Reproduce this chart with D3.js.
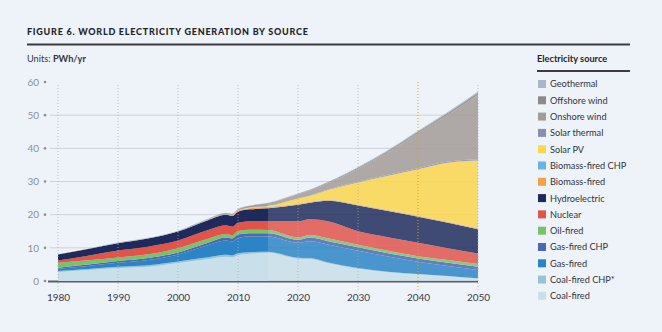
<!DOCTYPE html>
<html>
<head>
<meta charset="utf-8">
<script src="https://cdn.jsdelivr.net/npm/d3@7"></script>
<style>
  html, body { margin: 0; padding: 0; background: #edf3f9; }
  svg { display: block; font-family: Lato, "Open Sans", sans-serif; }
</style>
</head>
<body>
<div id="chart"></div>
<script>
// PWh per year, historical up to 2015, modelled afterwards
const years = [1980, 1985, 1990, 1995, 2000, 2005, 2008, 2009, 2010, 2012, 2015, 2020, 2022, 2025, 2030, 2035, 2040, 2045, 2050];

const coalFired     = [2.7, 3.3, 3.9, 4.3, 5.4, 6.6, 7.3, 7.1, 7.8, 8.2, 8.5, 6.7, 6.6, 5.35, 3.7, 2.65, 2.0, 1.4, 0.72];
const coalFiredCHP  = [0.3, 0.35, 0.4, 0.45, 0.5, 0.55, 0.6, 0.6, 0.6, 0.5, 0.3, 0.3, 0.3, 0.25, 0.2, 0.15, 0.1, 0.1, 0.08];
const gasFired      = [0.7, 0.9, 1.2, 1.6, 2.1, 3.6, 4.3, 4.2, 4.6, 4.7, 4.6, 4.5, 5.1, 5.4, 5.2, 4.6, 3.7, 3.0, 2.5];
const gasFiredCHP   = [0.3, 0.4, 0.5, 0.55, 0.6, 0.8, 0.9, 0.9, 1.0, 1.0, 1.0, 0.9, 1.1, 1.0, 1.1, 1.0, 1.0, 1.0, 1.0];
const oilFired      = [1.5, 1.3, 1.1, 1.15, 1.3, 1.2, 1.1, 1.05, 1.1, 1.05, 1.0, 0.8, 0.8, 0.9, 0.7, 0.7, 0.7, 0.8, 0.8];
const nuclear       = [0.7, 1.4, 2.1, 2.3, 2.3, 2.6, 2.6, 2.55, 2.5, 2.55, 2.7, 4.8, 4.7, 5.1, 4.1, 4.1, 4.0, 3.6, 3.2];
const hydro         = [1.8, 2.0, 2.2, 2.45, 2.7, 3.0, 3.15, 3.2, 3.3, 3.6, 3.8, 5.0, 5.0, 6.2, 7.8, 7.9, 7.9, 7.7, 7.3];
const biomassFired  = [0.02, 0.05, 0.08, 0.1, 0.1, 0.15, 0.2, 0.2, 0.25, 0.3, 0.35, 0.2, 0.2, 0.2, 0.2, 0.2, 0.2, 0.2, 0.2];
const biomassCHP    = [0.02, 0.03, 0.05, 0.06, 0.08, 0.1, 0.12, 0.12, 0.13, 0.14, 0.15, 0.1, 0.1, 0.1, 0.1, 0.1, 0.1, 0.1, 0.1];
const solarPV       = [0, 0, 0, 0, 0, 0.005, 0.01, 0.02, 0.03, 0.1, 0.25, 1.55, 1.8, 2.95, 6.6, 10.35, 14.0, 17.75, 20.4];
const solarThermal  = [0, 0, 0, 0, 0, 0, 0, 0, 0, 0.005, 0.01, 0.05, 0.1, 0.15, 0.2, 0.25, 0.3, 0.35, 0.4];
const onshoreWind   = [0, 0, 0.01, 0.01, 0.03, 0.1, 0.22, 0.27, 0.34, 0.5, 0.8, 1.25, 1.48, 1.9, 3.97, 6.85, 10.53, 14.1, 19.37];
const offshoreWind  = [0, 0, 0, 0, 0, 0, 0, 0, 0.01, 0.02, 0.04, 0.15, 0.2, 0.25, 0.35, 0.45, 0.55, 0.65, 0.75];
const geothermal    = [0.02, 0.03, 0.04, 0.04, 0.05, 0.06, 0.06, 0.07, 0.07, 0.07, 0.08, 0.1, 0.12, 0.15, 0.18, 0.2, 0.22, 0.25, 0.28];

// bottom of the stack first
const sources = [
  {key: 'Coal-fired',        values: coalFired,    color: '#c9dfea'},
  {key: 'Coal-fired CHP*',   values: coalFiredCHP, color: '#96c3d6'},
  {key: 'Gas-fired',         values: gasFired,     color: '#2a84c6'},
  {key: 'Gas-fired CHP',     values: gasFiredCHP,  color: '#4b68b2'},
  {key: 'Oil-fired',         values: oilFired,     color: '#79c26a'},
  {key: 'Nuclear',           values: nuclear,      color: '#e2544a'},
  {key: 'Hydroelectric',     values: hydro,        color: '#1e2a5c'},
  {key: 'Biomass-fired',     values: biomassFired, color: '#f5a04a'},
  {key: 'Biomass-fired CHP', values: biomassCHP,   color: '#6ab4e4'},
  {key: 'Solar PV',          values: solarPV,      color: '#fcd64c'},
  {key: 'Solar thermal',     values: solarThermal, color: '#8b8fae'},
  {key: 'Onshore wind',      values: onshoreWind,  color: '#a39b98'},
  {key: 'Offshore wind',     values: offshoreWind, color: '#8c8a8c'},
  {key: 'Geothermal',        values: geothermal,   color: '#a9b6c8'}
];

const yTicks = [0, 10, 20, 30, 40, 50, 60];
const xTicks = [1980, 1990, 2000, 2010, 2020, 2030, 2040, 2050];
const lastHistoric = 2015;

const width = 662, height = 332;

const rows = years.map((yr, i) => {
  const r = {year: yr};
  sources.forEach(s => { r[s.key] = s.values[i]; });
  return r;
});

const x = d3.scaleLinear().domain([1980, 2050]).range([58, 478]);
const y = d3.scaleLinear().domain([0, 60]).range([281, 82]);

const svg = d3.select('#chart')
  .append('svg')
    .attr('width', width)
    .attr('height', height);

svg.append('rect')
  .attr('width', width)
  .attr('height', height)
  .attr('fill', '#edf3f9');

// heading
svg.append('text')
  .attr('x', 27).attr('y', 35)
  .attr('font-size', 9)
  .attr('font-weight', 900)
  .attr('letter-spacing', 0.75)
  .attr('fill', '#23232b')
  .text('FIGURE 6. WORLD ELECTRICITY GENERATION BY SOURCE');

svg.append('line')
  .attr('x1', 27).attr('x2', 630)
  .attr('y1', 44.5).attr('y2', 44.5)
  .attr('stroke', '#3b3b40')
  .attr('stroke-width', 2);

const units = svg.append('text')
  .attr('x', 27).attr('y', 61.5)
  .attr('font-size', 9.2)
  .attr('fill', '#33333d');
units.append('tspan').text('Units: ');
units.append('tspan').attr('font-weight', 700).text('PWh/yr');

// grid
const g = svg.append('g');

g.selectAll('.grid')
  .data(yTicks.filter(d => d > 0 && d < 60))
  .join('line')
    .attr('class', 'grid')
    .attr('x1', 50).attr('x2', x(2050))
    .attr('y1', d => y(d)).attr('y2', d => y(d))
    .attr('stroke', '#cdd2d8')
    .attr('stroke-width', 1);

g.append('line')
  .attr('x1', 48).attr('x2', x(2050))
  .attr('y1', y(0) + 0.5).attr('y2', y(0) + 0.5)
  .attr('stroke', '#5d5d63')
  .attr('stroke-width', 2);

// stacked areas, modelled years drawn a little washed out
const stack = d3.stack().keys(sources.map(s => s.key));
const layers = stack(rows);

const area = d3.area()
  .x(d => x(d.data.year))
  .y0(d => y(d[0]))
  .y1(d => y(d[1]))
  .curve(d3.curveMonotoneX);

const defs = svg.append('defs');
defs.append('clipPath').attr('id', 'clip-hist')
  .append('rect')
    .attr('x', x(1980)).attr('y', 0)
    .attr('width', x(lastHistoric) - x(1980)).attr('height', height);
defs.append('clipPath').attr('id', 'clip-proj')
  .append('rect')
    .attr('x', x(lastHistoric)).attr('y', 0)
    .attr('width', x(2050) - x(lastHistoric)).attr('height', height);

const hist = g.append('g').attr('clip-path', 'url(#clip-hist)');
const proj = g.append('g').attr('clip-path', 'url(#clip-proj)').attr('opacity', 0.84);

[hist, proj].forEach(part => {
  part.selectAll('path')
    .data(layers)
    .join('path')
      .attr('d', area)
      .attr('fill', (d, i) => sources[i].color);
});

// decade guides
g.selectAll('.vline')
  .data(xTicks)
  .join('line')
    .attr('class', 'vline')
    .attr('x1', d => x(d)).attr('x2', d => x(d))
    .attr('y1', d => d === 2040 ? y(60) : y(60) + 3)
    .attr('y2', 292)
    .attr('stroke', d => d === 2040 ? '#d6a415' : '#a9adb3')
    .attr('stroke-opacity', d => d === 2040 ? 1 : 0.75)
    .attr('stroke-width', 1)
    .attr('stroke-dasharray', '1,2');

// axes
const xAxis = svg.append('g')
  .attr('transform', `translate(0,${y(0)})`)
  .call(d3.axisBottom(x).tickValues(xTicks).tickSize(0).tickPadding(13).tickFormat(d3.format('d')));
xAxis.select('.domain').remove();
xAxis.selectAll('text')
  .attr('font-size', 10)
  .attr('font-family', 'Lato, sans-serif')
  .attr('fill', '#3a3a48');

const yAxis = svg.append('g')
  .attr('transform', `translate(${x(1980)},0)`)
  .call(d3.axisLeft(y).tickValues(yTicks).tickSize(0).tickPadding(19));
yAxis.select('.domain').remove();
yAxis.selectAll('text')
  .attr('font-size', 10)
  .attr('font-family', 'Lato, sans-serif')
  .attr('fill', '#8f8f96');

svg.selectAll('.ytick-dot')
  .data(yTicks)
  .join('circle')
    .attr('class', 'ytick-dot')
    .attr('cx', 45)
    .attr('cy', d => y(d))
    .attr('r', 1.3)
    .attr('fill', '#8f8f96');

// legend
const legend = svg.append('g').attr('transform', 'translate(537,0)');

legend.append('text')
  .attr('x', 0).attr('y', 61.5)
  .attr('font-size', 9.2)
  .attr('font-weight', 700)
  .attr('fill', '#23232b')
  .text('Electricity source');

legend.append('line')
  .attr('x1', 0).attr('x2', 93)
  .attr('y1', 71).attr('y2', 71)
  .attr('stroke', '#3b3b40')
  .attr('stroke-width', 2);

const items = legend.selectAll('.item')
  .data(sources.slice().reverse())
  .join('g')
    .attr('class', 'item')
    .attr('transform', (d, i) => `translate(0,${84 + i * 16.3})`);

items.append('rect')
  .attr('x', 1).attr('y', -4)
  .attr('width', 8).attr('height', 8)
  .attr('fill', d => d.color);

items.append('text')
  .attr('x', 13).attr('y', 3.4)
  .attr('font-size', 9.2)
  .attr('fill', '#33333d')
  .text(d => d.key);
</script>
</body>
</html>
